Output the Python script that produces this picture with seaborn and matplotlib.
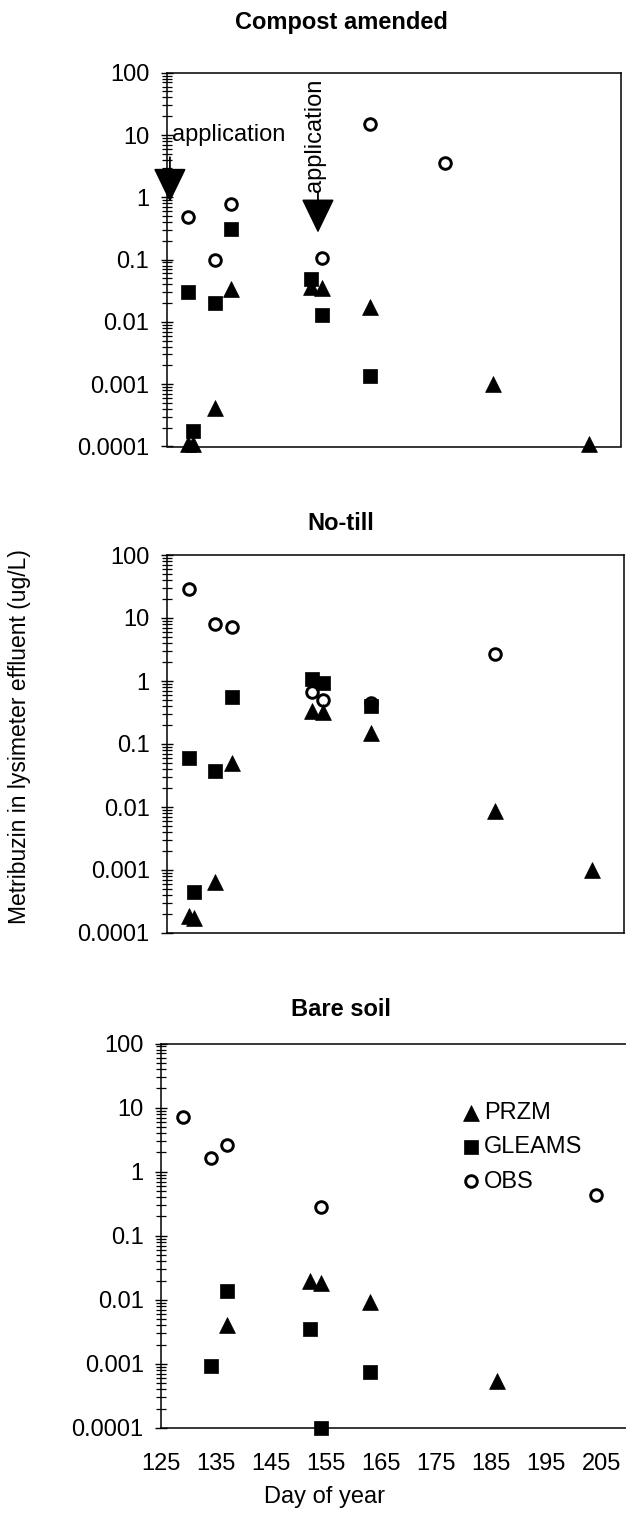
import numpy as np
import pandas as pd
import matplotlib
matplotlib.use("Agg")
import matplotlib.pyplot as plt
import seaborn as sns
from matplotlib.ticker import FixedLocator, FixedFormatter, LogLocator, NullFormatter

sns.set_theme(style="white")
plt.rcParams["font.family"] = ["Liberation Sans", "DejaVu Sans"]
plt.rcParams["text.color"] = "black"
plt.rcParams["axes.labelcolor"] = "black"
plt.rcParams["xtick.color"] = "black"
plt.rcParams["ytick.color"] = "black"

# ---------------- data ----------------
panel_titles = ["Compost amended", "No-till", "Bare soil"]
series_names = ["PRZM", "GLEAMS", "OBS"]
ytick_values = [0.0001, 0.001, 0.01, 0.1, 1, 10, 100]
ytick_labels = ["0.0001", "0.001", "0.01", "0.1", "1", "10", "100"]
xtick_values = [125, 135, 145, 155, 165, 175, 185, 195, 205]
xtick_labels = ["125", "135", "145", "155", "165", "175", "185", "195", "205"]
x_label = "Day of year"
y_label = "Metribuzin in lysimeter effluent (ug/L)"
annotation_text = "application"

# Compost amended
ca_obs_day = [129, 134, 137, 154, 163, 177]
ca_obs_val = [0.48, 0.099, 0.79, 0.105, 15.0, 3.6]
ca_przm_day = [129, 130, 134, 137, 152, 154, 163, 186, 204]
ca_przm_val = [0.00011, 0.00011, 0.00042, 0.034, 0.036, 0.035, 0.0175, 0.00099, 0.00011]
ca_gleams_day = [129, 130, 134, 137, 152, 154, 163]
ca_gleams_val = [0.030, 0.00018, 0.020, 0.31, 0.048, 0.013, 0.00135]

# No-till
nt_obs_day = [129, 134, 137, 152, 154, 163, 186]
nt_obs_val = [28.5, 8.0, 7.1, 0.67, 0.50, 0.44, 2.7]
nt_przm_day = [129, 130, 134, 137, 152, 154, 163, 186, 204]
nt_przm_val = [0.000185, 0.00017, 0.00064, 0.050, 0.34, 0.32, 0.15, 0.0086, 0.00099]
nt_gleams_day = [129, 130, 134, 137, 152, 154, 163]
nt_gleams_val = [0.059, 0.00045, 0.037, 0.56, 1.06, 0.93, 0.40]

# Bare soil
bs_obs_day = [129, 134, 137, 154, 204]
bs_obs_val = [7.2, 1.64, 2.65, 0.28, 0.44]
bs_przm_day = [137, 152, 154, 163, 186]
bs_przm_val = [0.0041, 0.0195, 0.018, 0.0091, 0.00054]
bs_gleams_day = [134, 137, 152, 154, 163]
bs_gleams_val = [0.00092, 0.0136, 0.0035, 0.0001, 0.00074]

# application arrows (compost panel): day, arrow tail, arrow tip
app_day = [125.6, 153.3]
app_tail = [4.4, 1.17]
app_tip = [0.84, 0.27]

panels = [
    (ca_przm_day, ca_przm_val, ca_gleams_day, ca_gleams_val, ca_obs_day, ca_obs_val),
    (nt_przm_day, nt_przm_val, nt_gleams_day, nt_gleams_val, nt_obs_day, nt_obs_val),
    (bs_przm_day, bs_przm_val, bs_gleams_day, bs_gleams_val, bs_obs_day, bs_obs_val),
]

# ---------------- figure ----------------
W, H = 626, 1514
fig = plt.figure(figsize=(W / 100, H / 100), dpi=100)
fig.patch.set_facecolor("white")

# axes boxes in pixels: left, right, top, bottom
boxes = [(166.7, 621, 72.7, 446.5), (167, 624, 555, 933), (161, 629, 1043.5, 1428)]
title_y = [22, 523, 1010]

FS = 17
axes = []
for i, (l, r, t, b) in enumerate(boxes):
    ax = fig.add_axes([l / W, 1 - b / H, (r - l) / W, (b - t) / H])
    axes.append(ax)
    pr_d, pr_v, gl_d, gl_v, ob_d, ob_v = panels[i]
    df_ob = pd.DataFrame({"day": ob_d, "val": ob_v, "series": "OBS"})
    df_gl = pd.DataFrame({"day": gl_d, "val": gl_v, "series": "GLEAMS"})
    df_pr = pd.DataFrame({"day": pr_d, "val": pr_v, "series": "PRZM"})

    sns.scatterplot(data=df_ob, x="day", y="val", ax=ax, marker="o", s=70,
                    facecolor="white", edgecolor="black", linewidth=2.1,
                    clip_on=False, zorder=3, label="OBS")
    sns.scatterplot(data=df_gl, x="day", y="val", ax=ax, marker="s", s=115,
                    color="black", edgecolor="black", linewidth=0.5,
                    clip_on=False, zorder=4, label="GLEAMS")
    sns.scatterplot(data=df_pr, x="day", y="val", ax=ax, marker="^", s=130,
                    color="black", edgecolor="black", linewidth=0.5,
                    clip_on=False, zorder=5, label="PRZM")

    ax.set_yscale("log")
    ax.set_ylim(0.0001, 100)
    ax.set_xlim(125, 210)
    ax.yaxis.set_major_locator(FixedLocator(ytick_values))
    ax.yaxis.set_major_formatter(FixedFormatter(ytick_labels))
    ax.yaxis.set_minor_locator(LogLocator(base=10, subs=np.arange(2, 10), numticks=20))
    ax.yaxis.set_minor_formatter(NullFormatter())
    ax.tick_params(axis="y", which="major", direction="inout", length=9, width=1.0,
                   color="black", labelsize=FS, pad=8, left=True)
    ax.tick_params(axis="y", which="minor", direction="inout", length=7, width=0.9,
                   color="black", left=True)
    ax.set_xticks(xtick_values)
    if i == 2:
        ax.set_xticklabels(xtick_labels)
        ax.tick_params(axis="x", length=0, labelsize=FS, pad=18)
    else:
        ax.set_xticklabels([])
        ax.tick_params(axis="x", length=0)
    ax.set_xlabel("")
    ax.set_ylabel("")
    for sp in ax.spines.values():
        sp.set_color("black")
        sp.set_linewidth(1.1)
    ax.grid(False)
    ax.set_facecolor("white")

    fig.text(341 / W, 1 - title_y[i] / H, panel_titles[i], ha="center", va="center",
             fontsize=17, fontweight="bold", color="black")

    if ax.get_legend() is not None:
        ax.get_legend().remove()

# annotations on compost panel
ax0 = axes[0]
for d, tail, tip in zip(app_day, app_tail, app_tip):
    ax0.annotate("", xy=(d, tip), xytext=(d, tail),
                 arrowprops=dict(arrowstyle="-|>,head_length=1.45,head_width=0.7",
                                 mutation_scale=15, lw=1.3, color="black",
                                 shrinkA=0, shrinkB=0),
                 annotation_clip=False, zorder=6)
ax0.text(126.0, 10, annotation_text, ha="left", va="center", fontsize=FS, zorder=7)
ax0.text(152.7, 1.2, annotation_text, ha="center", va="bottom", rotation=90,
         fontsize=FS, zorder=7)

# legend in bare-soil panel
ax2 = axes[2]
handles, labels = ax2.get_legend_handles_labels()
order = [labels.index(n) for n in series_names]
leg = ax2.legend([handles[k] for k in order], [labels[k] for k in order],
                 loc="upper left", bbox_to_anchor=(459 / W, 1 - 1102 / H),
                 bbox_transform=fig.transFigure, frameon=False, fontsize=FS,
                 handletextpad=0.05, labelspacing=0.52, borderpad=0, handlelength=1.0,
                 borderaxespad=0)

fig.text(325 / W, 1 - 1497 / H, x_label, ha="center", va="center", fontsize=FS)
fig.text(20 / W, 1 - 737 / H, y_label, ha="center", va="center", rotation=90, fontsize=16.5)

fig.savefig("out.png", dpi=100, facecolor="white")
